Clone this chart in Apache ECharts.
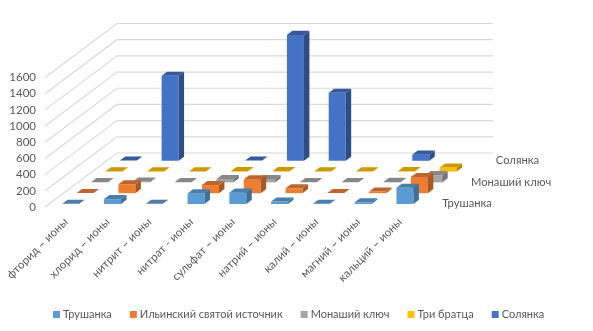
<!DOCTYPE html>
<html><head><meta charset="utf-8">
<style>html,body{margin:0;padding:0;background:#fff}#c{width:593px;height:331px}</style>
<script src="https://cdn.jsdelivr.net/npm/echarts@6/dist/echarts.min.js"></script>
</head><body><div id="c"></div>
<script>
const categories = ['фторид – ионы','хлорид – ионы','нитрит – ионы','нитрат - ионы','сульфат – ионы','натрий – ионы','калий – ионы','магний – ионы','кальций – ионы'];
const seriesNames = ['Трушанка','Ильинский святой источник','Монаший ключ','Три братца','Солянка'];
const trushanka = [2, 60, 2, 130, 140, 30, 2, 20, 200];
const ilinsky   = [2, 110, null, 100, 170, 60, 2, 20, 200];
const monashy   = [2, 10, 2, 40, 40, 2, 2, 5, 90];
const tri       = [2, 2, 2, 5, 5, 2, 2, 5, 50];
const solyanka  = [2, 1050, null, 2, 1555, 840, null, 75, null];
const valueTicks = [0,200,400,600,800,1000,1200,1400,1600];
const depthLabels = ['Трушанка','Монаший ключ','Солянка'];
const depthLabelRows = [0,2,4];
const allValues = [trushanka, ilinsky, monashy, tri, solyanka];
const colors = ['#5B9BD5','#ED7D31','#A5A5A5','#FFC000','#4472C4'];
const sideColors = ['#3F6F9C','#A85A24','#757575','#B58A00','#2C4E85'];
const topColors = ['#4A7EAD','#C0652A','#878787','#CC9A00','#35599A'];
const FONT = 'Lato, "Open Sans", sans-serif';
const TXT = '#595959', GRID = '#D9D9D9';
const DX = 72, DY = -54, ROWS = 5;
const F0 = 0.28, F1 = 0.66, BW = 0.407;
const depthNudge = [14, 14, 10];

function barRender(r){
  return function(params, api){
    const i = api.value(0), v = api.value(1);
    const band = api.size([1,0])[0];
    const p0 = api.coord([i,0]), p1 = api.coord([i,v]);
    const ox = DX/ROWS*(r+F0), oy = DY/ROWS*(r+F0);
    const sx = DX/ROWS*(F1-F0), sy = DY/ROWS*(F1-F0);
    const w = band*BW;
    const xl = p0[0]-w/2+ox+0.8, xr = xl+w, yb = p0[1]+oy, yt = p1[1]+oy;
    const poly = (pts,fill)=>({type:'polygon',shape:{points:pts},style:{fill:fill,stroke:null}});
    const ch = [];
    if (yb-yt>0.3){
      ch.push(poly([[xl,yb],[xr,yb],[xr,yt],[xl,yt]],colors[r]));
      ch.push(poly([[xr,yb],[xr+sx,yb+sy],[xr+sx,yt+sy],[xr,yt]],sideColors[r]));
    }
    ch.push(poly([[xl,yt],[xr,yt],[xr+sx,yt+sy],[xl+sx,yt+sy]],topColors[r]));
    return {type:'group',children:ch};
  };
}
function gridRender(params, api){
  const v = api.value(1);
  const band = api.size([1,0])[0];
  const p = api.coord([0,v]);
  const x0 = p[0]-band/2;
  const x2 = x0+band*categories.length+DX;
  return {type:'polyline',shape:{points:[[x0,p[1]],[x0+DX,p[1]+DY],[x2,p[1]+DY]]},
    style:{fill:null,stroke:GRID,lineWidth:1.2}};
}
function depthRender(params, api){
  const r = api.value(2);
  const band = api.size([1,0])[0];
  const p = api.coord([categories.length-1,0]);
  return {type:'text',style:{
    x:p[0]+band/2+DX/ROWS*(r+.5)+depthNudge[params.dataIndex], y:p[1]+DY/ROWS*(r+.5)+2,
    text:depthLabels[params.dataIndex], fill:TXT, font:'11.2px '+FONT,
    textAlign:'left', textVerticalAlign:'middle'}};
}
const series = [{
  type:'custom', name:'walls', silent:true, z:1, renderItem:gridRender,
  data:valueTicks.map(v=>[0,v]), clip:false
},{
  type:'custom', name:'depth', silent:true, z:1, renderItem:depthRender,
  data:depthLabelRows.map(r=>[categories.length-1,0,r]), clip:false
}];
seriesNames.forEach((n,r)=>{
  series.push({
    type:'custom', name:n, z:10-r, clip:false, renderItem:barRender(r),
    itemStyle:{color:colors[r]},
    data:allValues[r].map((v,i)=>[i,v]).filter(d=>d[1]!==null)
  });
});
const chart = echarts.init(document.getElementById('c'),null,{renderer:'canvas'});
chart.setOption({
  animation:false,
  backgroundColor:'#fff',
  grid:{left:45,top:77.5,width:376,height:129.5},
  legend:{data:seriesNames,left:48,top:304,icon:'rect',itemWidth:7,itemHeight:7,itemGap:18,
    textStyle:{color:TXT,fontFamily:FONT,fontSize:11,padding:[0,0,0,-2]}},
  xAxis:{type:'category',data:categories,
    axisLine:{show:false},axisTick:{show:false},splitLine:{show:false},
    axisLabel:{rotate:45,interval:0,color:TXT,fontFamily:FONT,fontSize:11.5,margin:13}},
  yAxis:{type:'value',min:0,max:1600,interval:200,
    axisLine:{show:false},axisTick:{show:false},splitLine:{show:false},
    axisLabel:{color:TXT,fontFamily:FONT,fontSize:11.5,margin:9,padding:[4,0,0,0],formatter:v=>String(v)}},
  series:series
});
</script></body></html>
